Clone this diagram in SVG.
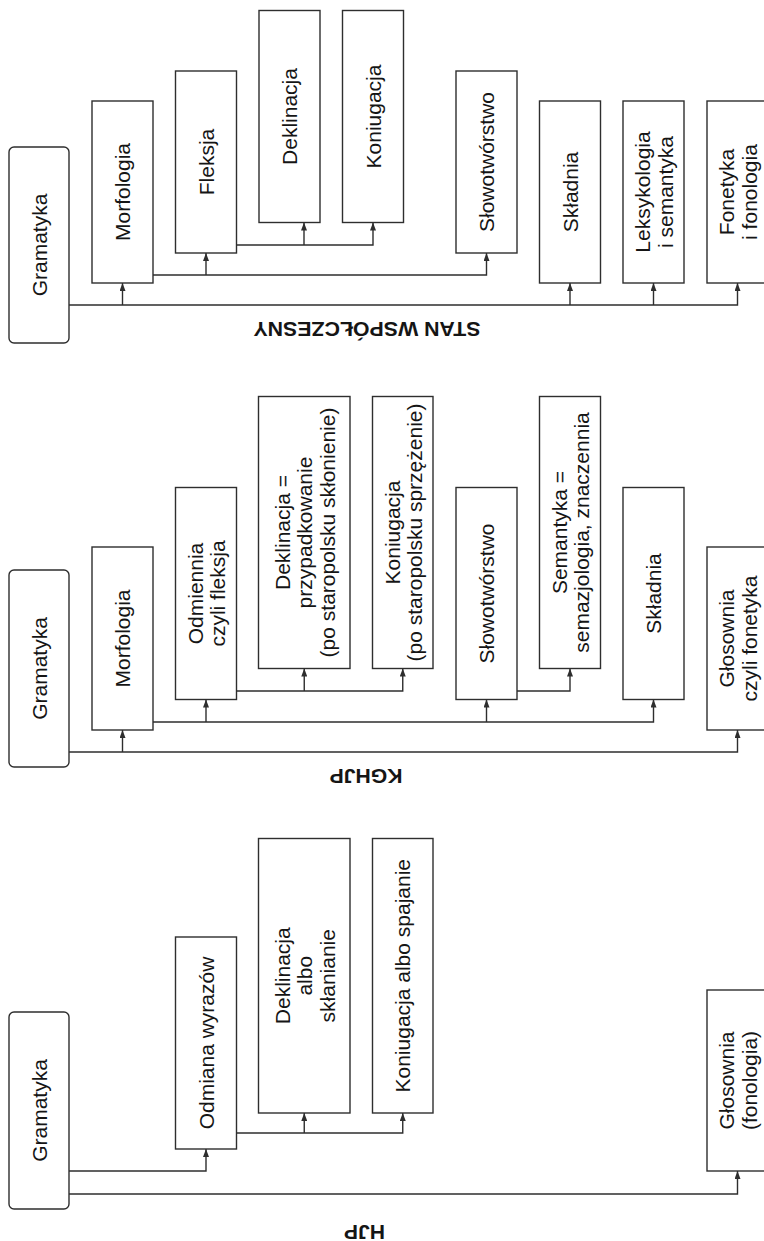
<svg xmlns="http://www.w3.org/2000/svg" width="764" height="1241" viewBox="0 0 764 1241">
<style>
.box{fill:#fff;stroke:#2e2e2e;stroke-width:1.4}
.t{font-family:"Liberation Sans",Arial,sans-serif;font-size:21px;fill:#151515;text-anchor:middle;dominant-baseline:central}
.c{fill:none;stroke:#2e2e2e;stroke-width:1.4}
.lbl{font-family:"Liberation Sans",Arial,sans-serif;font-size:20px;font-weight:bold;fill:#151515;text-anchor:middle}
</style>
<defs>
<marker id="ah" viewBox="0 0 8 6" refX="8" refY="3" markerWidth="8" markerHeight="6" markerUnits="userSpaceOnUse" orient="auto">
<path d="M0,0 L8,3 L0,6 z" fill="#2e2e2e"/>
</marker>
</defs>
<rect width="764" height="1241" fill="#fff"/>

<!-- ===== TOP: STAN WSPÓŁCZESNY ===== -->
<g id="top-gramatyka"><rect class="box" x="9" y="147" width="60" height="196" rx="5"/><text class="t" transform="translate(39,245) rotate(-90)">Gramatyka</text></g>
<g id="top-morfologia"><rect class="box" x="92" y="101" width="61" height="182"/><text class="t" transform="translate(122.5,192) rotate(-90)">Morfologia</text></g>
<g id="top-fleksja"><rect class="box" x="175.5" y="71" width="61" height="182"/><text class="t" transform="translate(206,162) rotate(-90)">Fleksja</text></g>
<g id="top-deklinacja"><rect class="box" x="259" y="10.5" width="61" height="212"/><text class="t" transform="translate(289.5,116.5) rotate(-90)">Deklinacja</text></g>
<g id="top-koniugacja"><rect class="box" x="342.5" y="10.5" width="61" height="212"/><text class="t" transform="translate(373,116.5) rotate(-90)">Koniugacja</text></g>
<g id="top-slowotworstwo"><rect class="box" x="456" y="71" width="61" height="182"/><text class="t" transform="translate(486.5,162) rotate(-90)">Słowotwórstwo</text></g>
<g id="top-skladnia"><rect class="box" x="539.5" y="101" width="61" height="182"/><text class="t" transform="translate(570,192) rotate(-90)">Składnia</text></g>
<g id="top-leksykologia"><rect class="box" x="623" y="101" width="61" height="182"/><text class="t" transform="translate(653.5,192) rotate(-90)"><tspan x="0" dy="-11.25">Leksykologia</tspan><tspan x="0" dy="22.5">i semantyka</tspan></text></g>
<g id="top-fonetyka"><rect class="box" x="707" y="101" width="61" height="182"/><text class="t" transform="translate(737.5,192) rotate(-90)"><tspan x="0" dy="-11.25">Fonetyka</tspan><tspan x="0" dy="22.5">i fonologia</tspan></text></g>
<g id="label-stan"><text class="lbl" transform="translate(367,321.5) rotate(180)" textLength="227" lengthAdjust="spacingAndGlyphs">STAN WSPÓŁCZESNY</text></g>

<!-- ===== MIDDLE: KGHJP ===== -->
<g id="mid-gramatyka"><rect class="box" x="9" y="570" width="60" height="197" rx="5"/><text class="t" transform="translate(39,668.5) rotate(-90)">Gramatyka</text></g>
<g id="mid-morfologia"><rect class="box" x="92" y="547" width="61" height="183"/><text class="t" transform="translate(122.5,638.5) rotate(-90)">Morfologia</text></g>
<g id="mid-odmiennia"><rect class="box" x="175.5" y="487.5" width="61" height="212"/><text class="t" transform="translate(206,593.5) rotate(-90)"><tspan x="0" dy="-11.25">Odmiennia</tspan><tspan x="0" dy="22.5">czyli fleksja</tspan></text></g>
<g id="mid-deklinacja"><rect class="box" x="258.5" y="396.5" width="91.5" height="272"/><text class="t" transform="translate(304.25,532.5) rotate(-90)"><tspan x="0" dy="-22.5">Deklinacja =</tspan><tspan x="0" dy="22.5">przypadkowanie</tspan><tspan x="0" dy="22.5">(po staropolsku skłonienie)</tspan></text></g>
<g id="mid-koniugacja"><rect class="box" x="372.5" y="396.5" width="60.5" height="272"/><text class="t" transform="translate(402.75,532.5) rotate(-90)"><tspan x="0" dy="-11.25">Koniugacja</tspan><tspan x="0" dy="22.5">(po staropolsku sprzężenie)</tspan></text></g>
<g id="mid-slowotworstwo"><rect class="box" x="456" y="487.5" width="61" height="212"/><text class="t" transform="translate(486.5,593.5) rotate(-90)">Słowotwórstwo</text></g>
<g id="mid-semantyka"><rect class="box" x="539.5" y="396.5" width="61" height="272"/><text class="t" transform="translate(570,532.5) rotate(-90)"><tspan x="0" dy="-11.25">Semantyka =</tspan><tspan x="0" dy="22.5">semazjologia, znaczennia</tspan></text></g>
<g id="mid-skladnia"><rect class="box" x="623" y="487.5" width="61" height="212"/><text class="t" transform="translate(653.5,593.5) rotate(-90)">Składnia</text></g>
<g id="mid-glosownia"><rect class="box" x="707" y="547" width="61" height="183"/><text class="t" transform="translate(737.5,638.5) rotate(-90)"><tspan x="0" dy="-11.25">Głosownia</tspan><tspan x="0" dy="22.5">czyli fonetyka</tspan></text></g>
<g id="label-kghjp"><text class="lbl" transform="translate(366,769) rotate(180)" textLength="73" lengthAdjust="spacingAndGlyphs">KGHJP</text></g>

<!-- ===== BOTTOM: HJP ===== -->
<g id="bot-gramatyka"><rect class="box" x="9" y="1012" width="60" height="197" rx="5"/><text class="t" transform="translate(39,1110.5) rotate(-90)">Gramatyka</text></g>
<g id="bot-odmiana"><rect class="box" x="175.5" y="937" width="61" height="212"/><text class="t" transform="translate(206,1043) rotate(-90)">Odmiana wyrazów</text></g>
<g id="bot-deklinacja"><rect class="box" x="258.5" y="838.5" width="91.5" height="274.5"/><text class="t" transform="translate(304.25,975.75) rotate(-90)"><tspan x="0" dy="-22.5">Deklinacja</tspan><tspan x="0" dy="22.5">albo</tspan><tspan x="0" dy="22.5">skłanianie</tspan></text></g>
<g id="bot-koniugacja"><rect class="box" x="372.5" y="838.5" width="60.5" height="274.5"/><text class="t" transform="translate(402.75,975.75) rotate(-90)">Koniugacja albo spajanie</text></g>
<g id="bot-glosownia"><rect class="box" x="707" y="990" width="61" height="181"/><text class="t" transform="translate(737.5,1080.5) rotate(-90)"><tspan x="0" dy="-11.25">Głosownia</tspan><tspan x="0" dy="22.5">(fonologia)</tspan></text></g>
<g id="label-hjp"><text class="lbl" transform="translate(364.5,1225) rotate(180)" textLength="41" lengthAdjust="spacingAndGlyphs">HJP</text></g>

<g id="connectors">
<!-- top -->
<path class="c" d="M69,305 H737.5 V283" marker-end="url(#ah)"/>
<path class="c" d="M122.5,305 V283" marker-end="url(#ah)"/>
<path class="c" d="M570,305 V283" marker-end="url(#ah)"/>
<path class="c" d="M653.5,305 V283" marker-end="url(#ah)"/>
<path class="c" d="M153,275 H486.5 V253" marker-end="url(#ah)"/>
<path class="c" d="M206,275 V253" marker-end="url(#ah)"/>
<path class="c" d="M236.5,245 H373 V222.5" marker-end="url(#ah)"/>
<path class="c" d="M304,245 V222.5" marker-end="url(#ah)"/>
<!-- middle -->
<path class="c" d="M69,752 H737.5 V730" marker-end="url(#ah)"/>
<path class="c" d="M122.5,752 V730" marker-end="url(#ah)"/>
<path class="c" d="M153,722 H653.5 V699.5" marker-end="url(#ah)"/>
<path class="c" d="M206,722 V699.5" marker-end="url(#ah)"/>
<path class="c" d="M486.5,722 V699.5" marker-end="url(#ah)"/>
<path class="c" d="M236.5,691 H402.75 V668.5" marker-end="url(#ah)"/>
<path class="c" d="M304.25,691 V668.5" marker-end="url(#ah)"/>
<path class="c" d="M517,691 H570 V668.5" marker-end="url(#ah)"/>
<!-- bottom -->
<path class="c" d="M69,1171 H206 V1149" marker-end="url(#ah)"/>
<path class="c" d="M69,1194 H737.5 V1171" marker-end="url(#ah)"/>
<path class="c" d="M236.5,1133 H402.75 V1113" marker-end="url(#ah)"/>
<path class="c" d="M304.25,1133 V1113" marker-end="url(#ah)"/>
</g>
</svg>
